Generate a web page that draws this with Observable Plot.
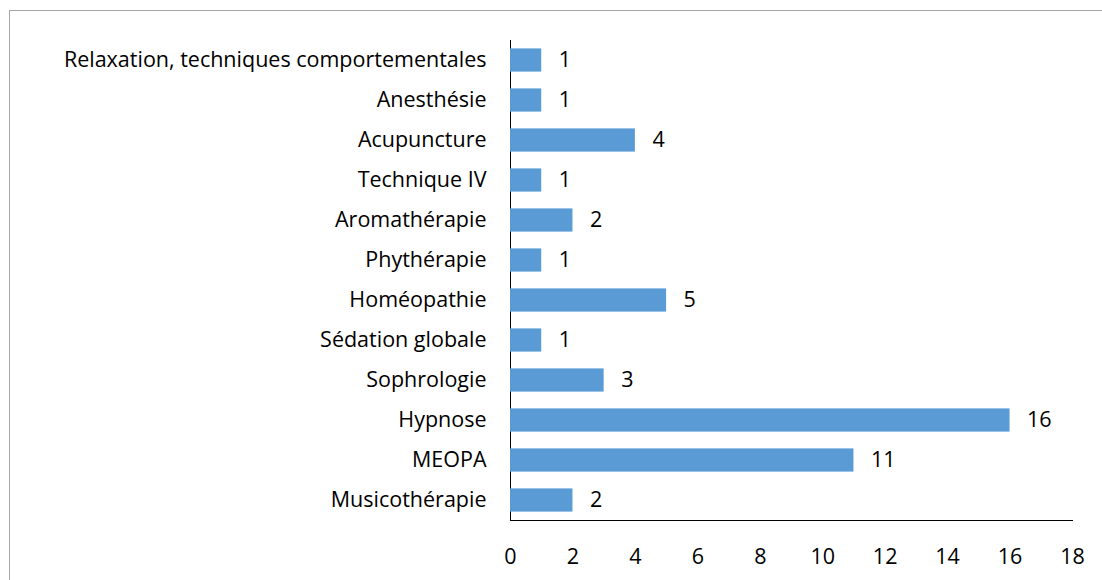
<!DOCTYPE html>
<html><head><meta charset="utf-8">
<script src="https://cdn.jsdelivr.net/npm/d3@7"></script>
<script src="https://cdn.jsdelivr.net/npm/@observablehq/plot@0.6"></script>
<style>
body{margin:0;background:#fff;}
#wrap{position:relative;width:1102px;height:580px;overflow:hidden;}
#frame{position:absolute;left:9px;top:10px;width:1200px;height:700px;border:1px solid #a6a6a6;box-sizing:border-box;}
#chart{position:absolute;left:0;top:0;}
</style></head>
<body><div id="wrap"><div id="frame"></div><div id="chart"></div></div>
<script>
const categories = ["Relaxation, techniques comportementales","Anesthésie","Acupuncture","Technique IV","Aromathérapie","Phythérapie","Homéopathie","Sédation globale","Sophrologie","Hypnose","MEOPA","Musicothérapie"];
const values = [1,1,4,1,2,1,5,1,3,16,11,2];
const xTicks = [0,2,4,6,8,10,12,14,16,18];
const data = categories.map((c,i)=>({cat:c, v:values[i]}));
const font = "'Open Sans', sans-serif";
const chart = Plot.plot({
  width:1102, height:580,
  marginLeft:510, marginRight:30, marginTop:40, marginBottom:60,
  style:{fontFamily:font, fontSize:"21.5px", color:"#000", background:"transparent", overflow:"visible"},
  x:{domain:[0,18], ticks:xTicks, label:null, tickSize:0, tickPadding:28, line:true},
  y:{type:"band", domain:categories, range:[40,520], round:false, label:null, tickSize:0, tickPadding:24, paddingInner:0.42, paddingOuter:0.21, line:true},
  marks:[
    Plot.barX(data,{x:"v", y:"cat", fill:"#5b9bd5"}),
    Plot.text(data,{x:"v", y:"cat", text:d=>String(d.v), textAnchor:"start", dx:17, fontSize:21.5, fill:"#000"})
  ]
});
chart.querySelectorAll("line, path").forEach(e=>{
  const p = e.parentNode && e.parentNode.getAttribute("aria-label");
  if (p && /axis/.test(p)) { e.setAttribute("stroke","#a6a6a6"); e.setAttribute("stroke-opacity","1"); }
});
document.getElementById("chart").appendChild(chart);
</script></body></html>
